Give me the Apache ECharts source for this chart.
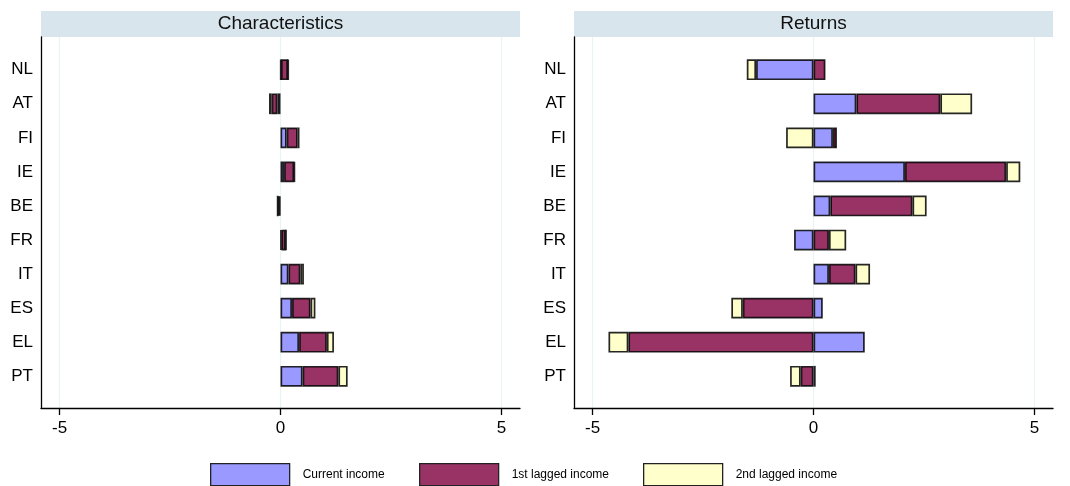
<!DOCTYPE html>
<html>
<head>
<meta charset="utf-8">
<title>Characteristics and Returns</title>
<script src="https://cdn.jsdelivr.net/npm/echarts@6/dist/echarts.min.js"></script>
<style>
  html, body { margin: 0; padding: 0; background: #fff; }
  #chart { width: 1070px; height: 486px; }
</style>
</head>
<body>
<div id="chart"></div>
<script>
// Countries, top to bottom
const countries = ['NL', 'AT', 'FI', 'IE', 'BE', 'FR', 'IT', 'ES', 'EL', 'PT'];

// Panel titles
const panelTitles = ['Characteristics', 'Returns'];

// Series names
const seriesNames = ['Current income', '1st lagged income', '2nd lagged income'];

// Characteristics panel: contributions by income lag
const charCurrent = [0.01, -0.07, 0.14, 0.08, -0.03, 0.02, 0.18, 0.26, 0.42, 0.50];
const charLag1    = [0.16, -0.13, 0.25, 0.23, -0.03, 0.10, 0.27, 0.42, 0.63, 0.81];
const charLag2    = [0.01, -0.06, 0.04, 0.01, -0.01, 0.01, 0.08, 0.11, 0.16, 0.21];

// Returns panel: contributions by income lag
const retCurrent = [-1.30, 0.97, 0.44, 2.07, 0.38, -0.44, 0.35, 0.21, 1.16, 0.05];
const retLag1    = [0.27, 1.90, 0.09, 2.29, 1.86, 0.35, 0.60, -1.60, -4.19, -0.29];
const retLag2    = [-0.21, 0.72, -0.62, 0.32, 0.32, 0.39, 0.33, -0.26, -0.45, -0.24];

// Tick labels on the value axes
const xTicks = [-5, 0, 5];

const colors = ['#9999ff', '#993366', '#ffffcc'];
const FONT = '"Liberation Sans", Arial, sans-serif';

const chart = echarts.init(document.getElementById('chart'), null, { renderer: 'canvas' });

const X_MIN = -5.42, X_MAX = 5.42;
const panels = [
  { left: 41, data: [charCurrent, charLag1, charLag2] },
  { left: 574, data: [retCurrent, retLag1, retLag2] }
];
const PANEL_W = 479;

const grids = [];
const xAxes = [];
const yAxes = [];
const series = [];
const graphics = [];

// Bar grids (0, 1): category band area
panels.forEach((p, i) => {
  grids.push({ left: p.left, width: PANEL_W, top: 52.7, height: 340.6 });
  xAxes.push({ type: 'value', gridIndex: i, min: X_MIN, max: X_MAX, show: false });
  yAxes.push({
    type: 'category', gridIndex: i, data: countries, inverse: true,
    axisLine: { show: false }, axisTick: { show: false },
    splitLine: { show: false },
    axisLabel: { fontSize: 17, color: '#000', margin: 8, fontFamily: FONT }
  });
});

// Frame grids (2, 3): axis lines, ticks and grid lines spanning the full plot region
panels.forEach((p, i) => {
  grids.push({ left: p.left, width: PANEL_W, top: 37, height: 371 });
  xAxes.push({
    type: 'value', gridIndex: 2 + i, min: X_MIN, max: X_MAX,
    axisLine: { show: true, onZero: false, lineStyle: { color: '#000', width: 1.3 } },
    axisTick: { show: true, length: 7, customValues: xTicks, lineStyle: { color: '#000', width: 1.3 } },
    axisLabel: { customValues: xTicks, fontSize: 17, color: '#000', margin: 12, fontFamily: FONT },
    splitLine: { show: true, lineStyle: { color: '#eaf2f3', width: 1.2 } }
  });
  yAxes.push({
    type: 'value', gridIndex: 2 + i, min: 0, max: 1,
    axisLine: { show: true, onZero: false, lineStyle: { color: '#000', width: 1.3 } },
    axisTick: { show: false }, axisLabel: { show: false }, splitLine: { show: false }
  });
});

// Stacked bars: positives and negatives stack separately
panels.forEach((p, i) => {
  p.data.forEach((vals, k) => {
    series.push({
      type: 'bar',
      name: seriesNames[k],
      xAxisIndex: i, yAxisIndex: i,
      stack: 'panel' + i,
      stackStrategy: 'samesign',
      barWidth: '61%',
      data: vals,
      itemStyle: { color: colors[k], borderColor: 'rgba(0,0,0,0.85)', borderWidth: 1.7 },
      emphasis: { disabled: true },
      z: 3
    });
  });
});

// Panel header bands
panels.forEach((p, i) => {
  graphics.push({
    type: 'rect', left: p.left, top: 11, silent: true,
    shape: { width: PANEL_W, height: 26 },
    style: { fill: '#d9e5ec' }
  });
  graphics.push({
    type: 'text', silent: true,
    x: p.left + PANEL_W / 2, y: 24,
    style: {
      text: panelTitles[i], fill: '#111', fontSize: 19, fontFamily: FONT,
      textAlign: 'center', textVerticalAlign: 'middle'
    }
  });
});

// One legend block per series, laid out along the bottom
const legendLeft = [210, 419, 643];
const legends = seriesNames.map((name, k) => ({
  data: [name],
  left: legendLeft[k], top: 463,
  padding: 0,
  itemWidth: 79, itemHeight: 22,
  icon: 'rect',
  selectedMode: false,
  itemStyle: { color: colors[k], borderColor: '#222', borderWidth: 1.3 },
  textStyle: { fontSize: 12, color: '#000', fontFamily: FONT, padding: [0, 0, 0, 8] }
}));

chart.setOption({
  animation: false,
  backgroundColor: '#fff',
  textStyle: { fontFamily: FONT },
  grid: grids,
  xAxis: xAxes,
  yAxis: yAxes,
  series: series,
  legend: legends,
  graphic: graphics
});
</script>
</body>
</html>
